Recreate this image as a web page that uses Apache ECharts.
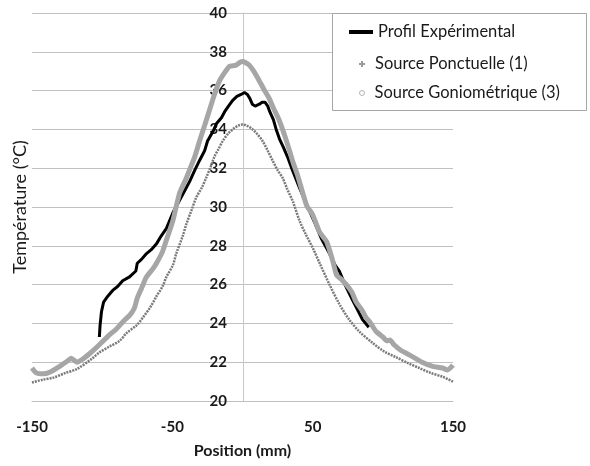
<!DOCTYPE html>
<html>
<head>
<meta charset="utf-8">
<script src="https://cdn.jsdelivr.net/npm/echarts@6/dist/echarts.min.js"></script>
<style>
  html, body { margin: 0; padding: 0; background: #fff; }
  #chart { width: 590px; height: 466px; }
</style>
</head>
<body>
<div id="chart"></div>
<script>
// Profil Expérimental (mesure)
const expPos = [-102, -101.5, -100.5, -99, -96, -92.5, -89, -85.4, -80.5, -76, -75, -72, -68.4, -65, -61.3, -58, -54.2, -49.6, -43.7, -37.8, -34, -30.6, -27, -24.9, -21, -18.5, -15, -12.8, -10, -7, -4, -1, 1.4, 3.5, 5.2, 7, 9, 12, 14, 16, 18, 19.5, 22, 24, 26.4, 29, 32, 35.6, 40, 44, 47.7, 52, 56, 59, 62, 66, 69, 73, 78.4, 82, 85.5, 90]
const expTemp = [23.3, 23.9, 24.6, 25.1, 25.4, 25.7, 25.9, 26.2, 26.4, 26.7, 27.1, 27.3, 27.6, 27.8, 28.1, 28.5, 28.9, 29.7, 30.5, 31.3, 31.9, 32.4, 32.9, 33.4, 33.9, 34.3, 34.6, 34.9, 35.2, 35.5, 35.7, 35.8, 35.9, 35.8, 35.6, 35.3, 35.2, 35.3, 35.4, 35.4, 35.2, 34.9, 34.5, 34.0, 33.5, 33.1, 32.6, 31.9, 31.1, 30.4, 29.8, 29.1, 28.4, 28.0, 27.6, 27.0, 26.7, 26.0, 25.2, 24.7, 24.2, 23.8]

// Source Ponctuelle (1)
const ponPos = [-150, -142.5, -135, -126, -118, -107, -102, -95, -87.6, -82.7, -75.5, -71, -66, -61.3, -57, -54.2, -49.6, -47.2, -42.6, -40.1, -36, -32.9, -29, -25.9, -22, -20, -17, -14.1, -10, -7, -3, 0, 3, 7.2, 10, 14.3, 18, 21.4, 25, 28.6, 32, 35.8, 40.6, 45, 50, 55, 62, 69, 76, 83, 92.6, 101, 109.7, 118, 126, 134, 142.5, 150]
const ponTemp = [20.95, 21.1, 21.2, 21.45, 21.65, 22.2, 22.5, 22.8, 23.1, 23.5, 23.9, 24.3, 24.8, 25.4, 25.9, 26.4, 27.0, 27.6, 28.5, 29.1, 29.9, 30.5, 31.0, 31.5, 32.2, 32.6, 33.0, 33.4, 33.8, 34.0, 34.2, 34.25, 34.2, 34.0, 33.8, 33.4, 32.9, 32.4, 31.9, 31.5, 30.9, 30.3, 29.3, 28.6, 27.9, 27.1, 26.0, 25.0, 24.2, 23.6, 23.0, 22.55, 22.25, 21.95, 21.7, 21.45, 21.25, 21.0]

// Source Goniométrique (3)
const gonPos = [-150, -147, -142, -137, -130, -125, -122, -118, -114, -108, -102, -95, -90, -85, -80, -77, -75, -72, -68.4, -64, -61.3, -57, -54.2, -49.6, -44.9, -40, -37.8, -34, -30.6, -27, -23.5, -20, -16.4, -12, -9.3, -5, -2, 0, 2, 5, 8, 12, 15, 19, 22, 26, 30, 33.5, 36, 39.4, 45.6, 50, 55, 60, 64, 67, 70, 74, 78, 81, 85, 88, 90.5, 95, 100, 103, 105, 108, 113, 117, 122, 128, 135, 142.5, 146, 150]
const gonTemp = [21.7, 21.45, 21.4, 21.5, 21.8, 22.05, 22.2, 22.0, 22.15, 22.5, 22.9, 23.4, 23.7, 24.1, 24.45, 24.8, 25.3, 25.8, 26.4, 26.8, 27.1, 27.7, 28.3, 29.3, 30.7, 31.5, 31.9, 32.6, 33.4, 34.2, 35.0, 35.8, 36.5, 37.0, 37.25, 37.3, 37.45, 37.5, 37.45, 37.3, 37.0, 36.5, 36.1, 35.6, 35.1, 34.5, 33.7, 32.9, 32.3, 31.6, 30.1, 29.6, 28.7, 28.2, 27.3, 26.5, 26.3, 26.0, 25.6, 25.1, 24.7, 24.3, 24.1, 23.6, 23.3, 23.1, 23.15, 22.9, 22.6, 22.45, 22.25, 22.0, 21.8, 21.7, 21.6, 21.85]

const xTicks = [-150, -50, 50, 150]
const seriesNames = ['Profil Expérimental', 'Source Ponctuelle (1)', 'Source Goniométrique (3)']

const pairs = (xs, ys) => xs.map((x, i) => [x, ys[i]])

const FONT = 'Lato'
const chart = echarts.init(document.getElementById('chart'))

chart.setOption({
  animation: false,
  textStyle: { fontFamily: FONT },
  grid: { left: 32, right: 137, top: 13, bottom: 65, containLabel: false, outerBoundsMode: 'none' },
  graphic: [
    {
      type: 'rect',
      z: 50,
      shape: { x: 332.5, y: 13.5, width: 254, height: 97 },
      style: { fill: '#fff', stroke: '#a6a6a6', lineWidth: 1 }
    }
  ],
  legend: [
    {
      z: 60,
      left: 349, top: 23, padding: 0,
      selectedMode: false,
      itemWidth: 24, itemHeight: 4,
      data: [{ name: seriesNames[0], icon: 'rect' }],
      textStyle: { fontSize: 16.5, lineHeight: 18, color: '#1a1a1a' }
    },
    {
      z: 60,
      left: 359, top: 55, padding: 0,
      selectedMode: false,
      itemWidth: 6, itemHeight: 6,
      data: [{ name: seriesNames[1], icon: 'path://M2,0H4V6H2ZM0,2H6V4H0Z', itemStyle: { color: '#9a9a9a' } }],
      textStyle: { fontSize: 16.5, lineHeight: 18, color: '#1a1a1a', padding: [0, 0, 0, 5] }
    },
    {
      z: 60,
      left: 359, top: 84, padding: 0,
      selectedMode: false,
      itemWidth: 5, itemHeight: 5,
      data: [{ name: seriesNames[2], icon: 'circle', itemStyle: { color: '#fff', borderColor: '#b5b5b5', borderWidth: 1 } }],
      textStyle: { fontSize: 16.5, lineHeight: 18, color: '#1a1a1a', padding: [0, 0, 0, 5] }
    }
  ],
  xAxis: {
    type: 'value',
    min: -150,
    max: 150,
    name: 'Position (mm)',
    nameLocation: 'middle',
    nameGap: 42,
    nameTextStyle: { fontSize: 16, fontWeight: 'bold', color: '#1a1a1a' },
    axisLine: { onZero: false, lineStyle: { color: '#c0c0c0', width: 1 } },
    axisTick: { show: false },
    splitLine: { show: false },
    axisLabel: {
      customValues: xTicks,
      margin: 19,
      fontSize: 15,
      fontWeight: 'bold',
      color: '#1a1a1a'
    }
  },
  yAxis: {
    type: 'value',
    min: 20,
    max: 40,
    interval: 2,
    // the axis sits at position 0, like in the original Excel chart
    offset: -211,
    name: 'Température (°C)',
    nameLocation: 'middle',
    nameGap: 214,
    nameTextStyle: { fontSize: 18, color: '#1a1a1a' },
    axisLine: { show: true, onZero: false, lineStyle: { color: '#c8c8c8', width: 1 } },
    axisTick: { show: false },
    splitLine: { lineStyle: { color: '#c0c0c0', width: 1 } },
    axisLabel: {
      margin: 16,
      fontSize: 15,
      fontWeight: 'bold',
      color: '#1a1a1a'
    }
  },
  series: [
    {
      name: seriesNames[0],
      type: 'line',
      color: '#000',
      showSymbol: false,
      lineStyle: { width: 3, color: '#000' },
      data: pairs(expPos, expTemp)
    },
    {
      name: seriesNames[1],
      type: 'line',
      color: '#777',
      showSymbol: false,
      smooth: 0.3,
      lineStyle: { width: 2.5, color: '#7a7a7a', type: [2, 1] },
      data: pairs(ponPos, ponTemp)
    },
    {
      name: seriesNames[2],
      type: 'line',
      color: '#a6a6a6',
      showSymbol: false,
      smooth: 0.2,
      lineStyle: { width: 5, color: '#a6a6a6' },
      data: pairs(gonPos, gonTemp)
    }
  ]
})

window.addEventListener('resize', () => { chart.resize() })
</script>
</body>
</html>
